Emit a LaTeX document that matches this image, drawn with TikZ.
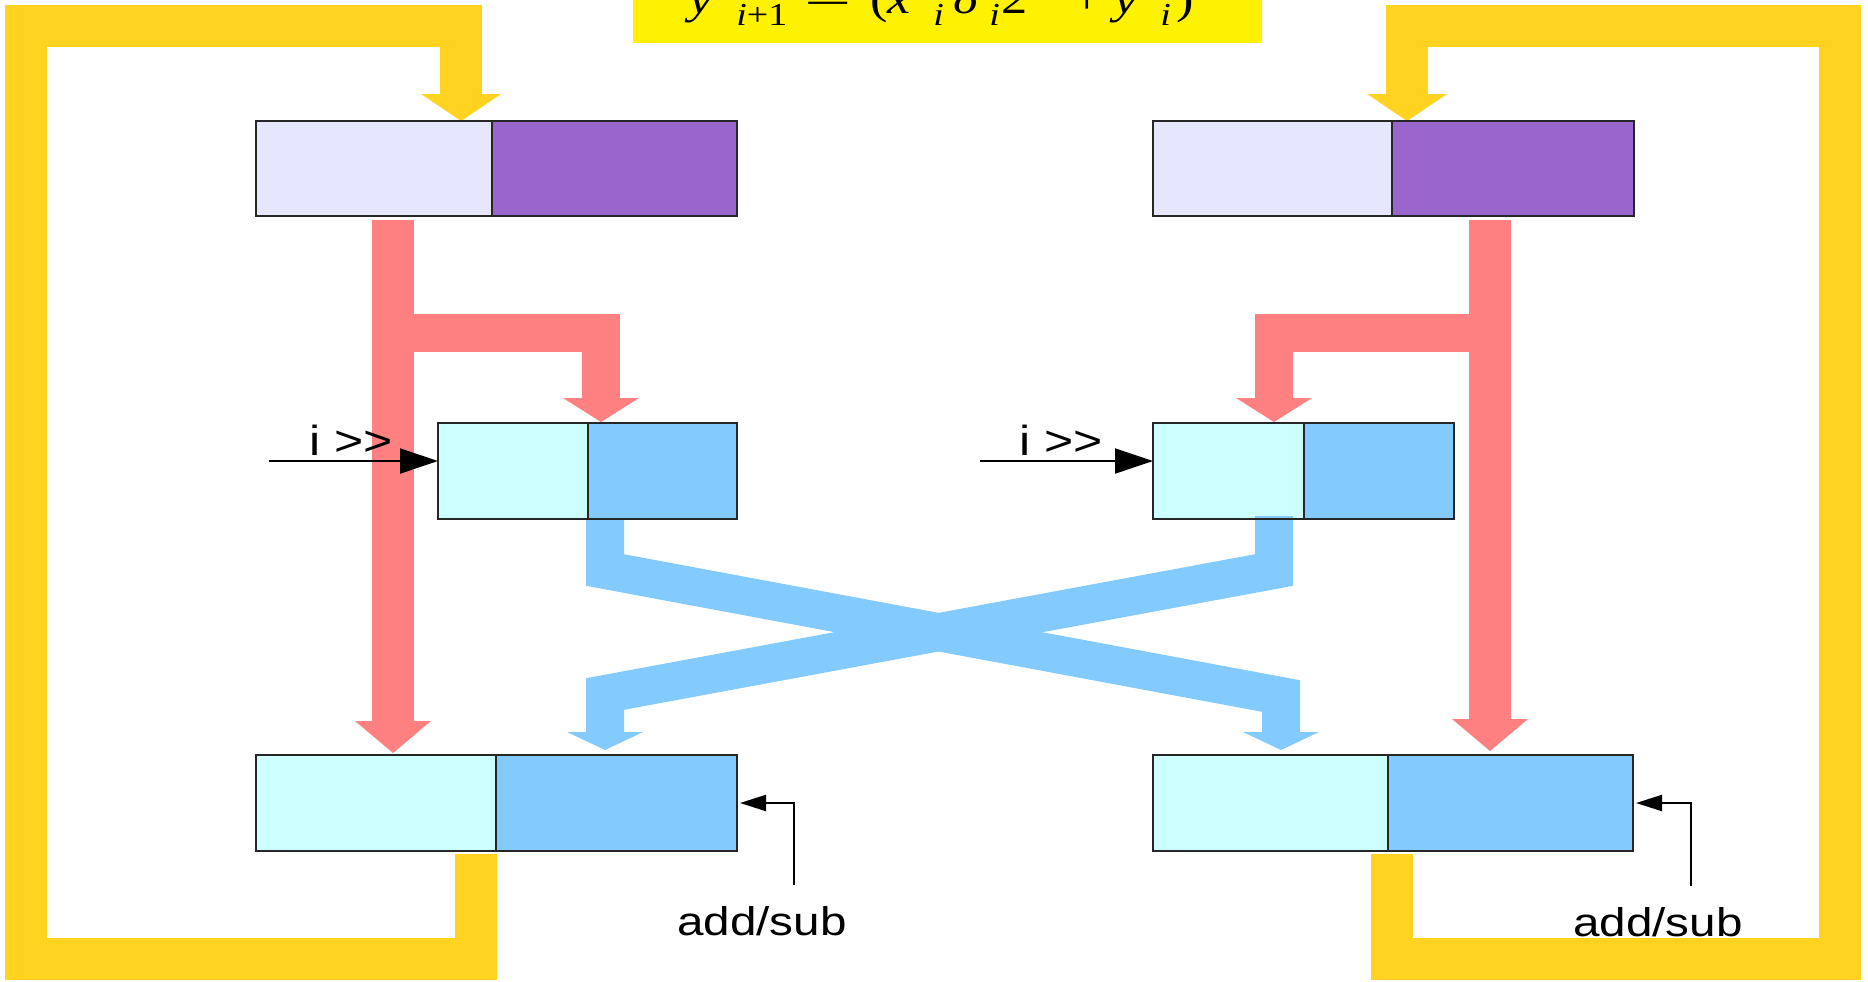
\documentclass[tikz,border=0pt]{standalone}
\usepackage{fontspec}
\setmainfont{Liberation Sans}
\newfontfamily\tms{Liberation Serif}
\usetikzlibrary{arrows.meta}
\definecolor{gold}{HTML}{FFD320}
\definecolor{lav}{HTML}{E6E6FF}
\definecolor{purp}{HTML}{9966CC}
\definecolor{pinkr}{HTML}{FF8080}
\definecolor{cyanl}{HTML}{CCFFFF}
\definecolor{bluel}{HTML}{83CAFF}
\newcommand\fpiece[2]{\rlap{\scalebox{1.19}[1]{#2}}\hspace{#1}}
\begin{document}
\begin{tikzpicture}[x=0.5pt,y=-0.5pt,
  cell/.style={draw=black!85, line width=0.7pt, inner sep=0pt, outer sep=0pt, anchor=north west},
  goldarrow/.style={draw=gold, line width=21pt, -{Triangle[width=40pt,length=13.5pt,line width=0pt]}},
  stemarrow/.style={draw=pinkr, line width=21pt, -{Triangle[width=38pt,length=16pt,line width=0pt]}},
  brancharrow/.style={draw=pinkr, line width=19pt, -{Triangle[width=38pt,length=12pt,line width=0pt]}},
  bluearrow/.style={draw=bluel, line width=19pt, -{Triangle[width=38pt,length=9pt,line width=0pt]}},
  shiftarrow/.style={draw=black, line width=1pt, -{Triangle[width=12.5pt,length=19pt]}},
  subarrow/.style={draw=black, line width=1pt, -{Triangle[width=8pt,length=13pt]}},
  lbl/.style={inner sep=0pt, font=\fontsize{20}{24}\selectfont},
  shl/.style={inner sep=0pt, anchor=base west, font=\fontsize{21}{24}\selectfont}
]
\useasboundingbox (0,0) rectangle (1868,981);

% registers
\node[cell, fill=lav,  minimum width=118pt,  minimum height=47.5pt] (tLa) at (256,121) {};
\node[cell, fill=purp, minimum width=122.5pt,minimum height=47.5pt] (tLb) at (492,121) {};
\node[cell, fill=lav,  minimum width=119.5pt,minimum height=47.5pt] (tRa) at (1153,121) {};
\node[cell, fill=purp, minimum width=121pt,  minimum height=47.5pt] (tRb) at (1392,121) {};
\node[cell, fill=cyanl,minimum width=75pt,   minimum height=48pt] (mLa) at (438,423) {};
\node[cell, fill=bluel,minimum width=74.5pt, minimum height=48pt] (mLb) at (588,423) {};
\node[cell, fill=cyanl,minimum width=75.5pt, minimum height=48pt] (mRa) at (1153,423) {};
\node[cell, fill=bluel,minimum width=75pt,   minimum height=48pt] (mRb) at (1304,423) {};
\node[cell, fill=cyanl,minimum width=120pt,  minimum height=48pt] (bLa) at (256,755) {};
\node[cell, fill=bluel,minimum width=120.5pt,minimum height=48pt] (bLb) at (496,755) {};
\node[cell, fill=cyanl,minimum width=117.5pt,minimum height=48pt] (bRa) at (1153,755) {};
\node[cell, fill=bluel,minimum width=122.5pt,minimum height=48pt] (bRb) at (1388,755) {};

% feedback loops (yellow)
\draw[goldarrow] ([shift={(-20,3)}]bLa.south east) -- (476,959) -- (26,959) -- (26,26) -- (461,26) -- ([shift={(-31,0)}]tLa.north east);
\draw[goldarrow] ([shift={(4,3)}]bRa.south east) -- (1392,959) -- (1840,959) -- (1840,26) -- (1407,26) -- ([shift={(15,0)}]tRa.north east);

% red paths
\coordinate (jL) at (393,333);
\coordinate (jR) at (1490,333);
\draw[stemarrow] ([shift={(-99,4)}]tLa.south east) -- ([shift={(137,-2)}]bLa.north west);
\draw[brancharrow] (jL) -- (601,333) -- ([shift={(13,-1)}]mLb.north west);
\draw[stemarrow] ([shift={(98,4)}]tRb.south west) -- ([shift={(102,-4)}]bRb.north west);
\draw[brancharrow] (jR) -- (1274,333) -- ([shift={(121,-1)}]mRa.north west);

% blue crossing paths
\draw[bluearrow] ([shift={(17,0)}]mLb.south west) -- (605,570) -- (1281,696) -- ([shift={(128,-5)}]bRa.north west);
\draw[bluearrow] ([shift={(121,-3)}]mRa.south west) -- (1274,570) -- (605,694) -- ([shift={(109,-5)}]bLb.north west);

% redraw register outlines on top
\foreach \n in {tLa,tLb,tRa,tRb,mLa,mLb,mRa,mRb,bLa,bLb,bRa,bRb}
  \draw[black!85, line width=0.7pt] (\n.north west) rectangle (\n.south east);

% control inputs
\coordinate (iL) at (269,461);
\coordinate (iR) at (980,461);
\draw[shiftarrow] (iL) -- ([shift={(0,38)}]mLa.north west);
\draw[shiftarrow] (iR) -- ([shift={(0,38)}]mRa.north west);
\node[shl] (shL) at (309,455) {\scalebox{1.19}[1]{i >{}>}};
\node[shl] (shR) at (1019,455) {\scalebox{1.19}[1]{i >{}>}};

\coordinate (aL) at (794,885);
\coordinate (aR) at (1691,886);
\draw[subarrow] (aL) |- ([shift={(3,0)}]bLb.east);
\draw[subarrow] (aR) |- ([shift={(3,0)}]bRb.east);
\node[lbl, anchor=base] (asL) at (762,935) {\scalebox{1.19}[1]{add/sub}};
\node[lbl, anchor=base] (asR) at (1658,936) {\scalebox{1.19}[1]{add/sub}};

% formula (cut by the top edge)
\begin{scope}
\clip (0,0) rectangle (1868,981);
\node[fill=yellow, inner sep=0pt, anchor=south west, minimum width=314.5pt, minimum height=45pt] (fbox) at (633,43) {};
\node[inner sep=0pt, anchor=base west, font=\tms\fontsize{22}{22}\selectfont] (formula) at (689,13)
 {\fpiece{23.5pt}{\itshape y}%
  \fpiece{34pt}{\raisebox{-6pt}{\fontsize{16}{16}\selectfont\itshape i\upshape+1}}%
  \fpiece{33pt}{\scalebox{1.6}[1]{=}}%
  \fpiece{8.5pt}{(}%
  \fpiece{23pt}{\itshape x}%
  \fpiece{10pt}{\raisebox{-6pt}{\fontsize{16}{16}\selectfont\itshape i}}%
  \fpiece{18pt}{\itshape δ}%
  \fpiece{6pt}{\raisebox{-6pt}{\fontsize{16}{16}\selectfont\itshape i}}%
  \fpiece{35.5pt}{2}%
  \fpiece{21pt}{+}%
  \fpiece{23pt}{\itshape y}%
  \fpiece{8pt}{\raisebox{-6pt}{\fontsize{16}{16}\selectfont\itshape i}}%
  \fpiece{0pt}{)}};
\end{scope}
\end{tikzpicture}
\end{document}
